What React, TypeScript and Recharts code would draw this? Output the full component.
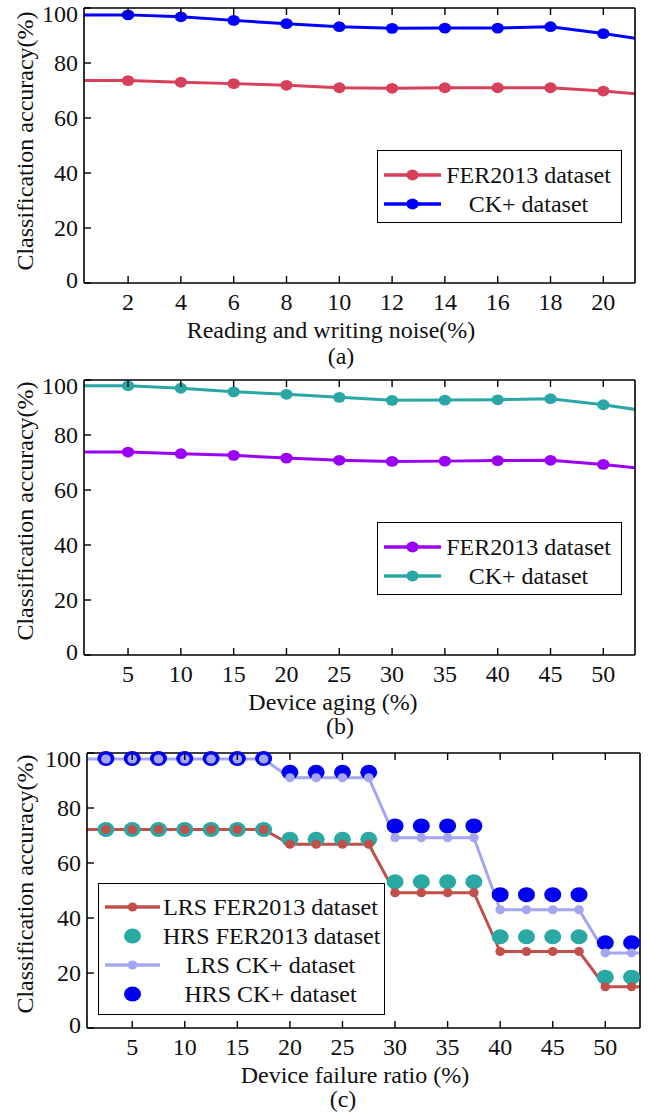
import { LineChart, Line, XAxis, YAxis, Legend } from "recharts";

const FONT = '"Liberation Serif", "Times New Roman", serif';
const INK = "#111";

const yTicks = [0, 20, 40, 60, 80, 100];

// (a) reading and writing noise
const noiseX = [2, 4, 6, 8, 10, 12, 14, 16, 18, 20];
const noiseFer = [73.6, 73.0, 72.5, 71.9, 71.0, 70.8, 71.0, 71.0, 71.0, 69.8];
const noiseCk = [97.5, 96.8, 95.5, 94.3, 93.2, 92.6, 92.7, 92.7, 93.2, 90.7];
const noiseEdgeX = [0, 22];
const noiseFerEdge = [73.6, 68.1];
const noiseCkEdge = [97.5, 87.9];

// (b) device aging
const agingX = [5, 10, 15, 20, 25, 30, 35, 40, 45, 50];
const agingFer = [73.8, 73.2, 72.6, 71.6, 70.8, 70.4, 70.5, 70.7, 70.8, 69.3];
const agingCk = [97.9, 97.0, 95.7, 94.8, 93.7, 92.6, 92.7, 92.8, 93.2, 91.0];
const agingEdgeX = [0, 55];
const agingFerEdge = [73.8, 67.3];
const agingCkEdge = [97.9, 88.2];

// (c) device failure ratio
const failX = [2.5, 5, 7.5, 10, 12.5, 15, 17.5, 20, 22.5, 25, 27.5, 30, 32.5, 35, 37.5, 40, 42.5, 45, 47.5, 50, 52.5];
const lrsFer = [72.2, 72.2, 72.2, 72.2, 72.2, 72.2, 72.2, 66.8, 66.8, 66.8, 66.8, 49.2, 49.2, 49.2, 49.2, 27.8, 27.8, 27.8, 27.8, 15.0, 15.0];
const hrsFer = [72.2, 72.2, 72.2, 72.2, 72.2, 72.2, 72.2, 68.6, 68.6, 68.6, 68.6, 53.2, 53.2, 53.2, 53.2, 33.2, 33.2, 33.2, 33.2, 18.5, 18.5];
const lrsCk = [97.8, 97.8, 97.8, 97.8, 97.8, 97.8, 97.8, 91.0, 91.0, 91.0, 91.0, 69.2, 69.2, 69.2, 69.2, 43.0, 43.0, 43.0, 43.0, 27.3, 27.3];
const hrsCk = [98.0, 98.0, 98.0, 98.0, 98.0, 98.0, 98.0, 93.0, 93.0, 93.0, 93.0, 73.5, 73.5, 73.5, 73.5, 48.5, 48.5, 48.5, 48.5, 31.0, 31.0];
const failEdgeX = [0, 55];
const lrsFerEdge = [72.2, 15.0];
const lrsCkEdge = [97.8, 27.3];

type Row = { x: number; edge?: boolean; [k: string]: number | boolean | undefined };

function buildRows(
  xs: number[],
  cols: Record<string, number[]>,
  edgeX: number[],
  edgeCols: Record<string, number[]>
): Row[] {
  const rows: Row[] = xs.map((x, i) => {
    const r: Row = { x };
    for (const k in cols) r[k] = cols[k][i];
    return r;
  });
  const first: Row = { x: edgeX[0], edge: true };
  const last: Row = { x: edgeX[1], edge: true };
  for (const k in edgeCols) {
    first[k] = edgeCols[k][0];
    last[k] = edgeCols[k][1];
  }
  return [first, ...rows, last];
}

type Series = { key: string; name: string; color: string; line: boolean; rx: number; ry: number };

const frame = { stroke: "#000", strokeWidth: 1.6 };

function BottomTick({ x, y, payload }: any) {
  return (
    <g>
      <line x1={x} x2={x} y1={y} y2={y - 7} stroke="#000" strokeWidth={1.4} />
      <text x={x} y={y + 27} textAnchor="middle" fontFamily={FONT} fontSize={24} fill={INK}>
        {payload.value}
      </text>
    </g>
  );
}

function TopTick({ x, y }: any) {
  return <line x1={x} x2={x} y1={y} y2={y + 7} stroke="#000" strokeWidth={1.4} />;
}

function LeftTick({ x, y, payload }: any) {
  const nudge = payload.value === 100 ? 6 : payload.value === 0 ? -3 : 0;
  return (
    <g>
      <line x1={x} x2={x + 7} y1={y} y2={y} stroke="#000" strokeWidth={1.4} />
      <text x={x - 6} y={y + 8 + nudge} textAnchor="end" fontFamily={FONT} fontSize={24} fill={INK}>
        {payload.value}
      </text>
    </g>
  );
}

function RightTick({ x, y }: any) {
  return <line x1={x} x2={x - 7} y1={y} y2={y} stroke="#000" strokeWidth={1.4} />;
}

const marker = (s: Series) => (p: any) => {
  const v = p.payload ? p.payload[s.key] : null;
  if (!p.payload || p.payload.edge || v == null || p.cx == null || p.cy == null) {
    return <g key={`e-${s.key}-${p.index}`} />;
  }
  return <ellipse key={`m-${s.key}-${p.index}`} cx={p.cx} cy={p.cy} rx={s.rx} ry={s.ry} fill={s.color} />;
};

type LegendCfg = { left: number; top: number; width: number; height: number; padTop: number; rowH: number; sampleW: number; padRight: number };

function LegendBox({ series, cfg }: { series: Series[]; cfg: LegendCfg }) {
  return (
    <div
      style={{
        width: cfg.width,
        height: cfg.height,
        boxSizing: "border-box",
        border: "1.6px solid #000",
        background: "#fff",
        paddingTop: cfg.padTop,
        fontFamily: FONT,
        fontSize: 24,
        color: INK,
      }}
    >
      {series.map((s) => (
        <div key={s.key} style={{ display: "flex", alignItems: "center", height: cfg.rowH }}>
          <svg width={cfg.sampleW} height={20} style={{ flex: "none" }}>
            {s.line && <line x1={6} x2={cfg.sampleW - 3} y1={10} y2={10} stroke={s.color} strokeWidth={3.5} />}
            <ellipse cx={(cfg.sampleW + 3) / 2} cy={10} rx={s.rx} ry={s.ry} fill={s.color} />
          </svg>
          <span style={{ flex: 1, textAlign: "center", whiteSpace: "nowrap", paddingRight: cfg.padRight, lineHeight: 1 }}>
            {s.name}
          </span>
        </div>
      ))}
    </div>
  );
}

// axes need a non-zero size to render, so each gets 1px and the margins give it back
function renderAxes(domain: [number, number], ticks: number[]) {
  return [
    <XAxis
      key="xb"
      dataKey="x"
      type="number"
      domain={domain}
      ticks={ticks}
      interval={0}
      allowDataOverflow
      height={1}
      tickSize={0}
      tickMargin={0}
      axisLine={frame}
      tick={(p: any) => <BottomTick {...p} />}
    />,
    <XAxis
      key="xt"
      xAxisId="top"
      orientation="top"
      dataKey="x"
      type="number"
      domain={domain}
      ticks={ticks}
      interval={0}
      allowDataOverflow
      height={1}
      tickSize={0}
      tickMargin={0}
      axisLine={frame}
      tick={(p: any) => <TopTick {...p} />}
    />,
    <YAxis
      key="yl"
      type="number"
      domain={[0, 100]}
      ticks={yTicks}
      interval={0}
      width={1}
      tickSize={0}
      tickMargin={0}
      axisLine={frame}
      tick={(p: any) => <LeftTick {...p} />}
    />,
    <YAxis
      key="yr"
      yAxisId="right"
      orientation="right"
      type="number"
      domain={[0, 100]}
      ticks={yTicks}
      interval={0}
      width={1}
      tickSize={0}
      tickMargin={0}
      axisLine={frame}
      tick={(p: any) => <RightTick {...p} />}
    />,
  ];
}

type PanelProps = {
  top: number;
  height: number;
  left: number;
  right: number;
  rows: Row[];
  domain: [number, number];
  ticks: number[];
  series: Series[];
  legendOrder: string[];
  legend: LegendCfg;
};

function Panel({ top, height, left, right, rows, domain, ticks, series, legendOrder, legend }: PanelProps) {
  const ordered = legendOrder.map((k) => series.find((s) => s.key === k)!);
  return (
    <div style={{ position: "absolute", left: 0, top, width: 650, height }}>
      <LineChart
        width={650}
        height={height}
        data={rows}
        margin={{ top: 7, right: 650 - right - 1, bottom: height - 283 - 1, left: left - 1 }}
      >
        {renderAxes(domain, ticks)}
        {series.map((s) => (
          <Line
            key={s.key}
            dataKey={s.key}
            name={s.name}
            type="linear"
            stroke={s.line ? s.color : "none"}
            strokeWidth={3}
            dot={marker(s)}
            activeDot={false}
            isAnimationActive={false}
          />
        ))}
        <Legend
          layout="horizontal"
          verticalAlign="middle"
          align="center"
          wrapperStyle={{ left: legend.left, top: legend.top, width: legend.width, height: legend.height }}
          content={() => <LegendBox series={ordered} cfg={legend} />}
        />
      </LineChart>
    </div>
  );
}

const noiseRows = buildRows(noiseX, { fer: noiseFer, ck: noiseCk }, noiseEdgeX, { fer: noiseFerEdge, ck: noiseCkEdge });
const agingRows = buildRows(agingX, { fer: agingFer, ck: agingCk }, agingEdgeX, { fer: agingFerEdge, ck: agingCkEdge });
const failRows = buildRows(
  failX,
  { lrsFer, hrsFer, lrsCk, hrsCk },
  failEdgeX,
  { lrsFer: lrsFerEdge, lrsCk: lrsCkEdge }
);

const noiseSeries: Series[] = [
  { key: "fer", name: "FER2013 dataset", color: "#d7405b", line: true, rx: 6.2, ry: 5.4 },
  { key: "ck", name: "CK+ dataset", color: "#0000ff", line: true, rx: 6.2, ry: 5.4 },
];
const agingSeries: Series[] = [
  { key: "fer", name: "FER2013 dataset", color: "#9900f5", line: true, rx: 6.2, ry: 5.4 },
  { key: "ck", name: "CK+ dataset", color: "#2aa7a4", line: true, rx: 6.2, ry: 5.4 },
];
// drawing order: big HRS dots underneath, LRS lines on top
const failSeries: Series[] = [
  { key: "hrsCk", name: "HRS CK+ dataset", color: "#0000f0", line: false, rx: 8.5, ry: 7.5 },
  { key: "hrsFer", name: "HRS FER2013 dataset", color: "#2aa8a4", line: false, rx: 8.5, ry: 7.5 },
  { key: "lrsCk", name: "LRS CK+ dataset", color: "#a4a6f2", line: true, rx: 4.8, ry: 4.5 },
  { key: "lrsFer", name: "LRS FER2013 dataset", color: "#c1504a", line: true, rx: 4.8, ry: 4.5 },
];

const legendAB: LegendCfg = { left: 377, top: 150, width: 245, height: 73, padTop: 9, rowH: 29.5, sampleW: 66, padRight: 8 };
const legendC: LegendCfg = { left: 98, top: 138, width: 287, height: 132, padTop: 9, rowH: 28.8, sampleW: 64, padRight: 6 };

function Titles() {
  const t = { fontFamily: FONT, fontSize: 24, fill: INK };
  const yTitle = "Classification accuracy(%)";
  return (
    <svg width={650} height={1114} style={{ position: "absolute", left: 0, top: 0, pointerEvents: "none" }}>
      <text {...t} x={33} y={141} textAnchor="middle" transform="rotate(-90 33 141)">{yTitle}</text>
      <text {...t} x={33} y={511} textAnchor="middle" transform="rotate(-90 33 511)">{yTitle}</text>
      <text {...t} x={33} y={884} textAnchor="middle" transform="rotate(-90 33 884)">{yTitle}</text>
      <text {...t} x={331} y={338} textAnchor="middle">Reading and writing noise(%)</text>
      <text {...t} x={341} y={364} textAnchor="middle">(a)</text>
      <text {...t} x={333} y={710} textAnchor="middle">Device aging (%)</text>
      <text {...t} x={340} y={734} textAnchor="middle">(b)</text>
      <text {...t} x={355} y={1083} textAnchor="middle">Device failure ratio (%)</text>
      <text {...t} x={343} y={1107} textAnchor="middle">(c)</text>
    </svg>
  );
}

export default function App() {
  return (
    <div style={{ position: "absolute", left: 0, top: 0, width: 650, height: 1114, background: "#fff", overflow: "hidden" }}>
      <Panel
        top={0}
        height={370}
        left={84}
        right={635}
        rows={noiseRows}
        domain={[0.33, 21.2]}
        ticks={noiseX}
        series={noiseSeries}
        legendOrder={["fer", "ck"]}
        legend={legendAB}
      />
      <Panel
        top={372}
        height={370}
        left={84}
        right={635}
        rows={agingRows}
        domain={[0.83, 53]}
        ticks={agingX}
        series={agingSeries}
        legendOrder={["fer", "ck"]}
        legend={legendAB}
      />
      <Panel
        top={745}
        height={369}
        left={87}
        right={640}
        rows={failRows}
        domain={[0.7, 53.3]}
        ticks={agingX}
        series={failSeries}
        legendOrder={["lrsFer", "hrsFer", "lrsCk", "hrsCk"]}
        legend={legendC}
      />
      <Titles />
    </div>
  );
}
